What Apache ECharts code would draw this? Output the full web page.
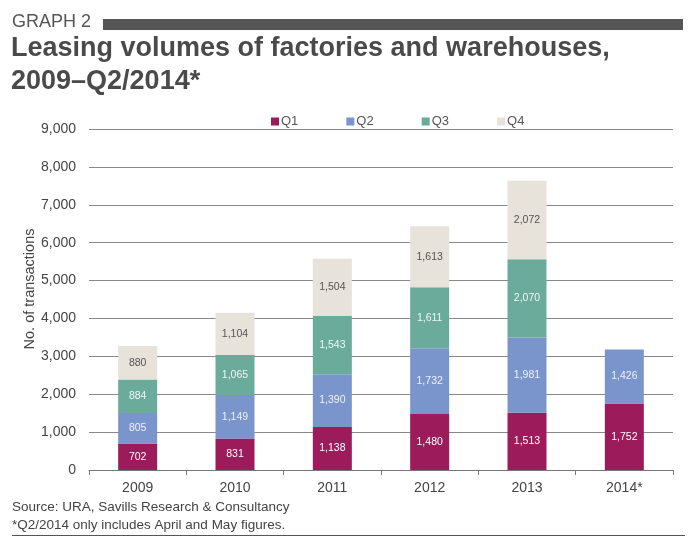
<!DOCTYPE html>
<html>
<head>
<meta charset="utf-8">
<script src="https://cdn.jsdelivr.net/npm/echarts@6/dist/echarts.min.js"></script>
<style>
  html, body { margin: 0; padding: 0; background: #fff; }
  #chart { width: 694px; height: 549px; }
</style>
</head>
<body>
<div id="chart"></div>
<script>
// values
var years = ['2009', '2010', '2011', '2012', '2013', '2014*'];
var q1 = [702, 831, 1138, 1480, 1513, 1752];
var q2 = [805, 1149, 1390, 1732, 1981, 1426];
var q3 = [884, 1065, 1543, 1611, 2070, null];
var q4 = [880, 1104, 1504, 1613, 2072, null];

var colors = ['#9c1b5b', '#7a94cc', '#6aab9c', '#e7e2da'];
var labelColors = ['#ffffff', '#eef2fb', '#eef7f4', '#555555'];

var font = 'Liberation Sans, Arial, sans-serif';

function fmt(v) {
	return v.toLocaleString('en-US');
}

function makeSeries(name, data, i) {
	return {
		name: name,
		type: 'bar',
		stack: 'total',
		barWidth: 39,
		data: data,
		itemStyle: { color: colors[i] },
		label: {
			show: true,
			position: 'inside',
			fontSize: 10.5,
			fontFamily: font,
			color: labelColors[i],
			formatter: function (p) { return p.value == null ? '' : fmt(p.value); }
		},
		emphasis: { disabled: true }
	};
}

var myChart = echarts.init(document.getElementById('chart'));
var option = {
	animation: false,
	textStyle: { fontFamily: font },
	grid: { left: 89, right: 21, top: 129, bottom: 79 },
	legend: {
		top: 110,
		left: 266,
		itemWidth: 8,
		itemHeight: 8,
		itemGap: 48,
		icon: 'rect',
		textStyle: { fontSize: 13, color: '#555', fontFamily: font, padding: [0, 0, 0, -3] },
		data: ['Q1', 'Q2', 'Q3', 'Q4']
	},
	xAxis: {
		type: 'category',
		data: years,
		axisLine: { lineStyle: { color: '#777' } },
		axisTick: { show: true, length: 5, lineStyle: { color: '#777' } },
		axisLabel: { color: '#444', fontSize: 14, margin: 11, fontFamily: font }
	},
	yAxis: {
		type: 'value',
		min: 0,
		max: 9000,
		interval: 1000,
		axisLine: { show: false },
		axisTick: { show: false },
		axisLabel: {
			color: '#444', fontSize: 14, margin: 13, fontFamily: font,
			formatter: function (v) { return fmt(v); }
		},
		splitLine: { lineStyle: { color: '#888', width: 1 } }
	},
	series: [
		makeSeries('Q1', q1, 0),
		makeSeries('Q2', q2, 1),
		makeSeries('Q3', q3, 2),
		makeSeries('Q4', q4, 3)
	],
	graphic: [
		{ type: 'text', left: 12, top: 13, style: { text: 'GRAPH 2', fontSize: 18, fill: '#555', fontFamily: font } },
		{ type: 'rect', shape: { x: 103, y: 19, width: 580, height: 11 }, style: { fill: '#555' } },
		{ type: 'text', left: 11, top: 35, style: { text: 'Leasing volumes of factories and warehouses,', fontSize: 27, fontWeight: 'bold', fill: '#4a4a4a', fontFamily: font } },
		{ type: 'text', left: 11, top: 68, style: { text: '2009\u2013Q2/2014*', fontSize: 27, fontWeight: 'bold', fill: '#4a4a4a', fontFamily: font } },
		{ type: 'text', x: 30, y: 289, rotation: Math.PI / 2, style: { text: 'No. of transactions', fontSize: 14.5, fill: '#444', fontFamily: font, align: 'center', verticalAlign: 'middle' } },
		{ type: 'text', left: 12, top: 500, style: { text: 'Source: URA, Savills Research & Consultancy', fontSize: 13.5, fill: '#444', fontFamily: font } },
		{ type: 'text', left: 12, top: 518, style: { text: '*Q2/2014 only includes April and May figures.', fontSize: 13.5, fill: '#444', fontFamily: font } },
		{ type: 'rect', shape: { x: 12, y: 535, width: 673, height: 1 }, style: { fill: '#555' } }
	]
};
option && myChart.setOption(option);
</script>
</body>
</html>
